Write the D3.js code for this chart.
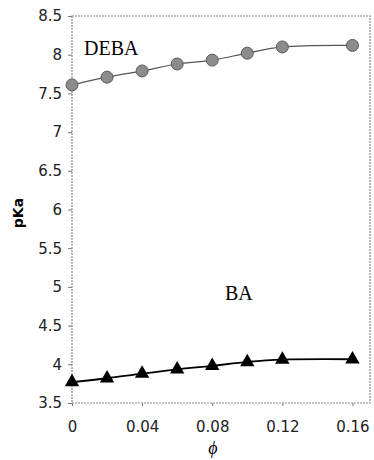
<!DOCTYPE html>
<html>
<head>
<meta charset="utf-8">
<script src="https://cdn.jsdelivr.net/npm/d3@7"></script>
<style>
  body { margin: 0; background: #fff; }
  svg { display: block; }
</style>
</head>
<body>
<svg id="chart" width="374" height="460"></svg>
<script>
// values
var phi = [0, 0.02, 0.04, 0.06, 0.08, 0.10, 0.12, 0.16];
var pkaDEBA = [7.61, 7.71, 7.79, 7.88, 7.93, 8.02, 8.10, 8.12];
var pkaBA = [3.77, 3.82, 3.88, 3.935, 3.98, 4.03, 4.06, 4.065];
var xTicks = [0, 0.04, 0.08, 0.12, 0.16];
var yTicks = [3.5, 4, 4.5, 5, 5.5, 6, 6.5, 7, 7.5, 8, 8.5];

var margin = {top: 16, right: 4, bottom: 57, left: 72};
var width = 374 - margin.left - margin.right;
var height = 460 - margin.top - margin.bottom;

var svg = d3.select("#chart");
var g = svg.append("g")
    .attr("transform", "translate(" + margin.left + "," + margin.top + ")");

var x = d3.scaleLinear().domain([0, 0.17]).range([0, width]);
var y = d3.scaleLinear().domain([3.5, 8.5]).range([height, 0]);

var tickFont = "'DejaVu Sans', Verdana, sans-serif";

// y axis
var yAxis = g.append("g")
    .call(d3.axisLeft(y).tickValues(yTicks).tickSize(4).tickPadding(6)
        .tickFormat(function(d) { return d3.format("")(d); }));
yAxis.select(".domain").remove();
yAxis.selectAll("line").attr("stroke", "#777");
yAxis.selectAll("text").style("font-family", tickFont).style("font-size", "15px").attr("fill", "#222");

// x axis
var xAxis = g.append("g")
    .attr("transform", "translate(0," + height + ")")
    .call(d3.axisBottom(x).tickValues(xTicks).tickSize(3).tickPadding(15)
        .tickFormat(function(d) { return d === 0 ? "0" : d3.format(".2f")(d); }));
xAxis.select(".domain").remove();
xAxis.selectAll("line").attr("stroke", "#777");
xAxis.selectAll("text").style("font-family", tickFont).style("font-size", "15px").attr("fill", "#222");

// frame
g.append("rect")
    .attr("x", 0).attr("y", 0)
    .attr("width", width).attr("height", height)
    .attr("fill", "none")
    .attr("stroke", "#8a8a8a")
    .attr("stroke-width", 1.2)
    .attr("stroke-dasharray", "2,1");

var line = d3.line()
    .x(function(d) { return x(d[0]); })
    .y(function(d) { return y(d[1]); })
    .curve(d3.curveCatmullRom.alpha(0.5));

var debaPts = d3.zip(phi, pkaDEBA);
var baPts = d3.zip(phi, pkaBA);

g.append("path")
    .datum(debaPts)
    .attr("d", line)
    .attr("fill", "none")
    .attr("stroke", "#555")
    .attr("stroke-width", 1.2);

g.append("path")
    .datum(baPts)
    .attr("d", line)
    .attr("fill", "none")
    .attr("stroke", "#000")
    .attr("stroke-width", 1.8);

g.selectAll(".deba")
    .data(debaPts)
    .enter().append("circle")
    .attr("class", "deba")
    .attr("cx", function(d) { return x(d[0]); })
    .attr("cy", function(d) { return y(d[1]); })
    .attr("r", 6)
    .attr("fill", "#8c8c8c")
    .attr("stroke", "#5a5a5a")
    .attr("stroke-width", 1);

var tri = d3.symbol().type(d3.symbolTriangle).size(90);
g.selectAll(".ba")
    .data(baPts)
    .enter().append("path")
    .attr("class", "ba")
    .attr("d", tri)
    .attr("transform", function(d) { return "translate(" + x(d[0]) + "," + y(d[1]) + ")"; })
    .attr("fill", "#000");

// labels
svg.append("text")
    .attr("x", 84).attr("y", 55)
    .style("font-family", "'Liberation Serif', 'Times New Roman', serif")
    .style("font-size", "20px")
    .text("DEBA");

svg.append("text")
    .attr("x", 225).attr("y", 300)
    .style("font-family", "'Liberation Serif', 'Times New Roman', serif")
    .style("font-size", "20px")
    .text("BA");

svg.append("text")
    .attr("transform", "translate(23,213) rotate(-90)")
    .attr("text-anchor", "middle")
    .style("font-family", "'DejaVu Sans', Verdana, sans-serif")
    .style("font-size", "14px")
    .style("font-weight", "bold")
    .text("pKa");

svg.append("text")
    .attr("x", 213).attr("y", 454)
    .attr("text-anchor", "middle")
    .style("font-family", "'Liberation Serif', 'Times New Roman', serif")
    .style("font-size", "18px")
    .style("font-style", "italic")
    .text("\u03d5");
</script>
</body>
</html>
